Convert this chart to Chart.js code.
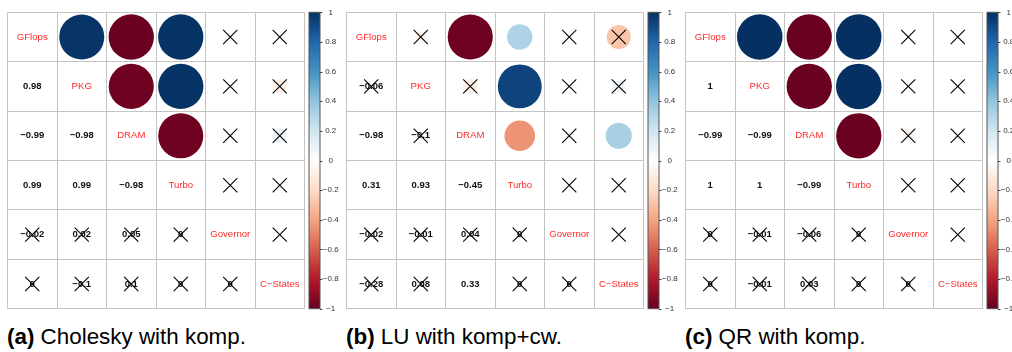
<!DOCTYPE html>
<html>
<head>
<meta charset="utf-8">
<script src="https://cdn.jsdelivr.net/npm/chart.js@4/dist/chart.umd.min.js"></script>
<style>
  html, body { margin: 0; padding: 0; background: #fff; overflow: hidden; width: 1012px; height: 352px; }
  .panel { position: absolute; top: 0; width: 339px; height: 352px; }
  .panel canvas { position: absolute; left: 0; top: 0; }
  .caption { position: absolute; top: 324px; left: 7px; font-family: "Liberation Sans", Arial, Helvetica, sans-serif;
             font-size: 22.4px; line-height: normal; white-space: nowrap; color: #000; }
</style>
</head>
<body>
<div class="panel" style="left:0px"><canvas id="chol" width="339" height="320"></canvas>
  <div class="caption"><b>(a)</b> Cholesky with komp.</div></div>
<div class="panel" style="left:339px"><canvas id="lu" width="339" height="320"></canvas>
  <div class="caption"><b>(b)</b> LU with komp+cw.</div></div>
<div class="panel" style="left:678px"><canvas id="qr" width="339" height="320"></canvas>
  <div class="caption"><b>(c)</b> QR with komp.</div></div>
<script>
// Variables of the correlation matrices (diagonal labels)
const variables = ['GFlops', 'PKG', 'DRAM', 'Turbo', 'Governor', 'C\u2212States'];

// Upper-triangle correlations, pair order:
// (GFlops,PKG) (GFlops,DRAM) (GFlops,Turbo) (GFlops,Governor) (GFlops,C-States)
// (PKG,DRAM) (PKG,Turbo) (PKG,Governor) (PKG,C-States)
// (DRAM,Turbo) (DRAM,Governor) (DRAM,C-States)
// (Turbo,Governor) (Turbo,C-States)
// (Governor,C-States)
const choleskyCorr = [0.98, -0.99, 0.99, -0.02, 0, -0.98, 0.99, 0.02, -0.1, -0.98, 0.05, 0.1, 0, 0, 0];
const choleskyInsignificant = [0, 0, 0, 1, 1, 0, 0, 1, 1, 0, 1, 1, 1, 1, 1];

const luCorr = [-0.06, -0.98, 0.31, -0.02, -0.28, -0.1, 0.93, -0.01, 0.08, -0.45, 0.04, 0.33, 0, 0, 0];
const luInsignificant = [1, 0, 0, 1, 1, 1, 0, 1, 1, 0, 1, 0, 1, 1, 1];

const qrCorr = [1, -0.99, 1, 0, 0, -0.99, 1, -0.01, -0.01, -0.99, -0.06, 0.03, 0, 0, 0];
const qrInsignificant = [0, 0, 0, 1, 1, 0, 0, 1, 1, 0, 1, 1, 1, 1, 1];

// Colour legend range and ticks
const legendMin = -1;
const legendMax = 1;
const legendStep = 0.2;

// RdBu diverging palette, from -1 to +1
const palette = ['#67001F', '#B2182B', '#D6604D', '#F4A582', '#FDDBC7', '#FFFFFF',
                 '#D1E5F0', '#92C5DE', '#4393C3', '#2166AC', '#053061'];

function hexToRgb(h) {
  return [parseInt(h.slice(1, 3), 16), parseInt(h.slice(3, 5), 16), parseInt(h.slice(5, 7), 16)];
}
function colorFor(v) {
  const t = Math.max(0, Math.min(1, (v + 1) / 2)) * (palette.length - 1);
  const i = Math.min(palette.length - 2, Math.floor(t));
  const f = t - i;
  const a = hexToRgb(palette[i]), b = hexToRgb(palette[i + 1]);
  const c = a.map((x, k) => Math.round(x + (b[k] - x) * f));
  return `rgb(${c[0]},${c[1]},${c[2]})`;
}
function fmtCorr(v) {
  const s = String(Math.round(v * 100) / 100);
  return s.replace('-', '\u2212');
}

const FONT = '"Liberation Sans", Arial, Helvetica, sans-serif';

function labelPlugin(pairs) {
  return {
    id: 'corrLabels',
    beforeDatasetsDraw(chart) {
      const { x, y } = chart.scales;
      const ctx = chart.ctx;
      ctx.save();
      ctx.textAlign = 'center';
      ctx.textBaseline = 'middle';
      // variable names along the diagonal
      ctx.font = `9.6px ${FONT}`;
      ctx.fillStyle = '#ff2b2b';
      variables.forEach((name, k) => {
        ctx.fillText(name, x.getPixelForValue(k + 0.5), y.getPixelForValue(k + 0.5));
      });
      // coefficients in the lower triangle
      ctx.font = `bold 9.5px ${FONT}`;
      ctx.fillStyle = '#111';
      pairs.forEach(p => {
        ctx.fillText(fmtCorr(p.v), x.getPixelForValue(p.i + 0.5), y.getPixelForValue(p.j + 0.5));
      });
      ctx.restore();
    },
    afterDraw(chart) {
      // colour legend bar next to the matrix
      const cb = chart.scales.cb;
      const ctx = chart.ctx;
      const x0 = chart.chartArea.right + 4.5, w = 11;
      const top = cb.getPixelForValue(legendMax), bot = cb.getPixelForValue(legendMin);
      const g = ctx.createLinearGradient(0, bot, 0, top);
      palette.forEach((c, i) => g.addColorStop(i / (palette.length - 1), c));
      ctx.save();
      ctx.fillStyle = g;
      ctx.fillRect(x0, top, w, bot - top);
      ctx.strokeStyle = '#555';
      ctx.lineWidth = 1;
      ctx.strokeRect(x0, top, w, bot - top);
      ctx.beginPath();
      cb.ticks.forEach(t => {
        const yy = Math.round(cb.getPixelForValue(t.value)) + 0.5;
        ctx.moveTo(x0 + w, yy);
        ctx.lineTo(x0 + w + 2.5, yy);
      });
      ctx.strokeStyle = '#444';
      ctx.stroke();
      ctx.restore();
    }
  };
}

function makeChart(id, corr, insignificant) {
  const n = variables.length;
  const pairs = [];
  let k = 0;
  for (let i = 0; i < n; i++) {
    for (let j = i + 1; j < n; j++) {
      pairs.push({ i, j, v: corr[k], ns: !!insignificant[k] });
      k++;
    }
  }
  // circles go into the upper triangle (column j, row i)
  const circles = pairs.map(p => ({ x: p.j + 0.5, y: p.i + 0.5, v: p.v }));
  // insignificant pairs are crossed out in both triangles
  const crosses = [];
  pairs.filter(p => p.ns).forEach(p => {
    crosses.push({ x: p.j + 0.5, y: p.i + 0.5 });
    crosses.push({ x: p.i + 0.5, y: p.j + 0.5 });
  });

  const gridStyle = { display: true, color: '#c4c4c4', lineWidth: 1, drawTicks: false };

  return new Chart(document.getElementById(id), {
    type: 'scatter',
    data: {
      datasets: [
        {
          data: crosses, order: 0,
          pointStyle: 'crossRot', pointRadius: 10,
          borderColor: '#000', borderWidth: 1.1, backgroundColor: 'rgba(0,0,0,0)'
        },
        {
          data: circles, order: 1,
          pointStyle: 'circle', borderWidth: 0,
          pointRadius: ctx => {
            if (!ctx.raw) return 0;
            const s = ctx.chart.scales.x;
            const cell = s.getPixelForValue(1) - s.getPixelForValue(0);
            return Math.sqrt(Math.abs(ctx.raw.v)) * cell * 0.46;
          },
          backgroundColor: ctx => ctx.raw ? colorFor(ctx.raw.v) : '#fff'
        }
      ]
    },
    options: {
      responsive: false,
      animation: false,
      events: [],
      layout: { autoPadding: false, padding: { left: 7.5, top: 12.3, bottom: 11.3, right: 0 } },
      plugins: { legend: { display: false }, tooltip: { enabled: false } },
      scales: {
        x: {
          type: 'linear', min: 0, max: n,
          ticks: { display: false, stepSize: 1 },
          grid: gridStyle, border: { display: false }
        },
        y: {
          type: 'linear', min: 0, max: n, reverse: true,
          ticks: { display: false, stepSize: 1 },
          grid: gridStyle, border: { display: false }
        },
        cb: {
          type: 'linear', position: 'right', axis: 'y',
          min: legendMin, max: legendMax,
          // tick marks are drawn next to the bar by the plugin; tickLength only offsets the labels
          grid: { display: false, drawTicks: true, tickLength: 18.3 }, border: { display: false },
          ticks: {
            stepSize: legendStep, padding: 0, crossAlign: 'center',
            color: '#333', font: { size: 8, family: FONT },
            callback: v => fmtCorr(Math.round(v * 10) / 10)
          },
          afterFit: s => { s.width = 34.5; }
        }
      }
    },
    plugins: [labelPlugin(pairs)]
  });
}

makeChart('chol', choleskyCorr, choleskyInsignificant);
makeChart('lu', luCorr, luInsignificant);
makeChart('qr', qrCorr, qrInsignificant);
</script>
</body>
</html>
